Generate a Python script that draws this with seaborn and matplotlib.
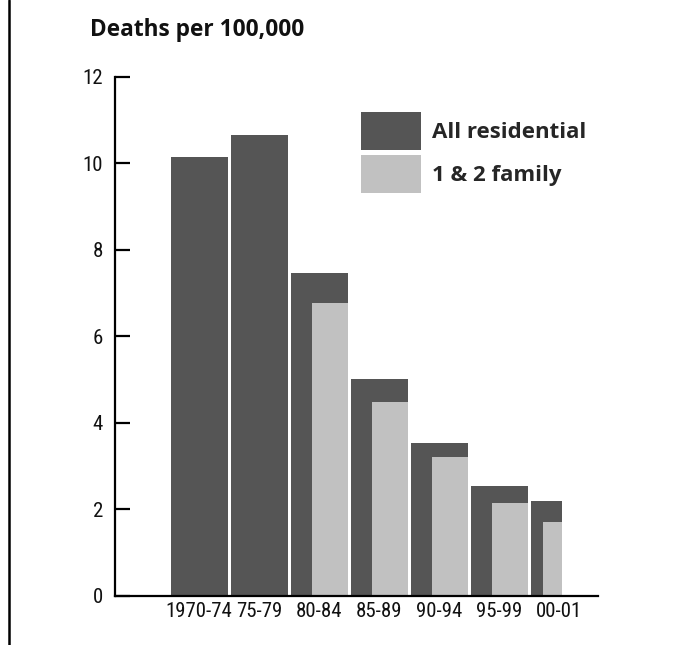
import numpy as np
import pandas as pd
import matplotlib
matplotlib.use("Agg")
import matplotlib.pyplot as plt
from matplotlib import font_manager
from matplotlib.ft2font import FT2Font
from matplotlib.lines import Line2D
import seaborn as sns

# Residential fire deaths per 100,000 population
periods = ["1970-74", "75-79", "80-84", "85-89", "90-94", "95-99", "00-01"]
all_residential = [10.15, 10.65, 7.45, 5.0, 3.52, 2.53, 2.18]
one_two_family = [np.nan, np.nan, 6.76, 4.48, 3.21, 2.15, 1.71]
y_ticks = [0, 2, 4, 6, 8, 10, 12]

sns.set_theme(style="white")
plt.rcParams["font.family"] = ["Open Sans", "DejaVu Sans"]

DARK = "#555555"
LIGHT = "#c1c1c1"


def pick_condensed():
    """Regular-weight condensed sans face with Latin digits, if any."""
    preferred = ["Noto Sans Condensed", "Roboto Condensed", "Liberation Sans Narrow",
                 "Open Sans Condensed", "Noto Sans SemiCondensed"]
    best = None
    for f in font_manager.fontManager.ttflist:
        n = f.name
        if not ("Condensed" in n or "Narrow" in n):
            continue
        if any(b in n for b in ("Extra", "Ultra", "Mono", "Serif", "CJK")):
            continue
        if f.style != "normal" or f.weight not in (300, 350, 400, "normal", "regular", "light"):
            continue
        try:
            cmap = FT2Font(f.fname).get_charmap()
        except Exception:
            continue
        if not all(ord(c) in cmap for c in "0123456789-"):
            continue
        w = f.weight if isinstance(f.weight, int) else 400
        rank = (preferred.index(n) if n in preferred else 99, abs(w - 400), len(n))
        if best is None or rank < best[0]:
            best = (rank, n, w)
    return best


found = pick_condensed()
if found:
    TICK_FONT, TICK_WEIGHT, TICK_SIZE = found[1], found[2], 15
else:
    TICK_FONT, TICK_WEIGHT, TICK_SIZE = "Roboto", 400, 12.6

W, H = 696, 645
fig = plt.figure(figsize=(W / 100, H / 100), dpi=100, facecolor="white")
ax = fig.add_axes([115 / W, 1 - 595.5 / H, (598 - 115) / W, (595.5 - 76.7) / H])

df = pd.DataFrame({"period": periods,
                   "all_res": all_residential,
                   "family": one_two_family})

sns.barplot(data=df, x="period", y="all_res", color=DARK, saturation=1,
            width=0.95, errorbar=None, linewidth=0, label="All residential", ax=ax)
n_dark = len(ax.patches)
sns.barplot(data=df, x="period", y="family", color=LIGHT, saturation=1,
            width=0.95, errorbar=None, linewidth=0, label="1 & 2 family", ax=ax)

# the last period covers only two years, so its bar is narrower;
# 1 & 2 family bars sit in the right part of each total bar
FULL_W = 0.95
SHORT_W = 0.525
INNER = 0.62
for k, p in enumerate(ax.patches):
    i = int(round(p.get_x() + p.get_width() / 2))
    w = SHORT_W if i == len(periods) - 1 else FULL_W
    left = i - FULL_W / 2
    if k < n_dark:
        p.set_x(left)
        p.set_width(w)
    else:
        p.set_x(left + w * (1 - INNER))
        p.set_width(w * INNER)

ax.set_xlim(-1.403, 6.647)
ax.set_ylim(0, 12)
ax.set_yticks(y_ticks)
ax.set_xticks(range(len(periods)))
ax.set_xlabel("")
ax.set_ylabel("")

tick_font = dict(family=TICK_FONT, weight=TICK_WEIGHT, size=TICK_SIZE, color="#111111")
ax.set_yticklabels([str(t) for t in y_ticks], **tick_font)
ax.set_xticklabels(periods, **tick_font)

for s in ["top", "right"]:
    ax.spines[s].set_visible(False)
for s in ["left", "bottom"]:
    ax.spines[s].set_color("black")
    ax.spines[s].set_linewidth(1.6)

ax.tick_params(axis="y", direction="in", length=10.8, width=1.6, pad=8.6,
               color="black", left=True)
ax.tick_params(axis="x", length=0, pad=5)

handles, labels = ax.get_legend_handles_labels()
ax.legend(handles, labels, loc="upper left",
          bbox_to_anchor=(360.7 / W, 1 - 111.7 / H), bbox_transform=fig.transFigure,
          frameon=False, borderpad=0, borderaxespad=0,
          handlelength=2.7, handleheight=2.28, handletextpad=0.5,
          labelspacing=0.21, prop={"family": "Open Sans", "weight": "bold", "size": 16})

fig.text(90 / W, 1 - 36 / H, "Deaths per 100,000", fontsize=16.3, fontweight="bold",
         ha="left", va="baseline", color="#111111")

fig.add_artist(Line2D([9 / W, 9 / W], [0, 1], transform=fig.transFigure,
                      color="black", linewidth=1.8))

fig.savefig("out.png", dpi=100, facecolor="white")
